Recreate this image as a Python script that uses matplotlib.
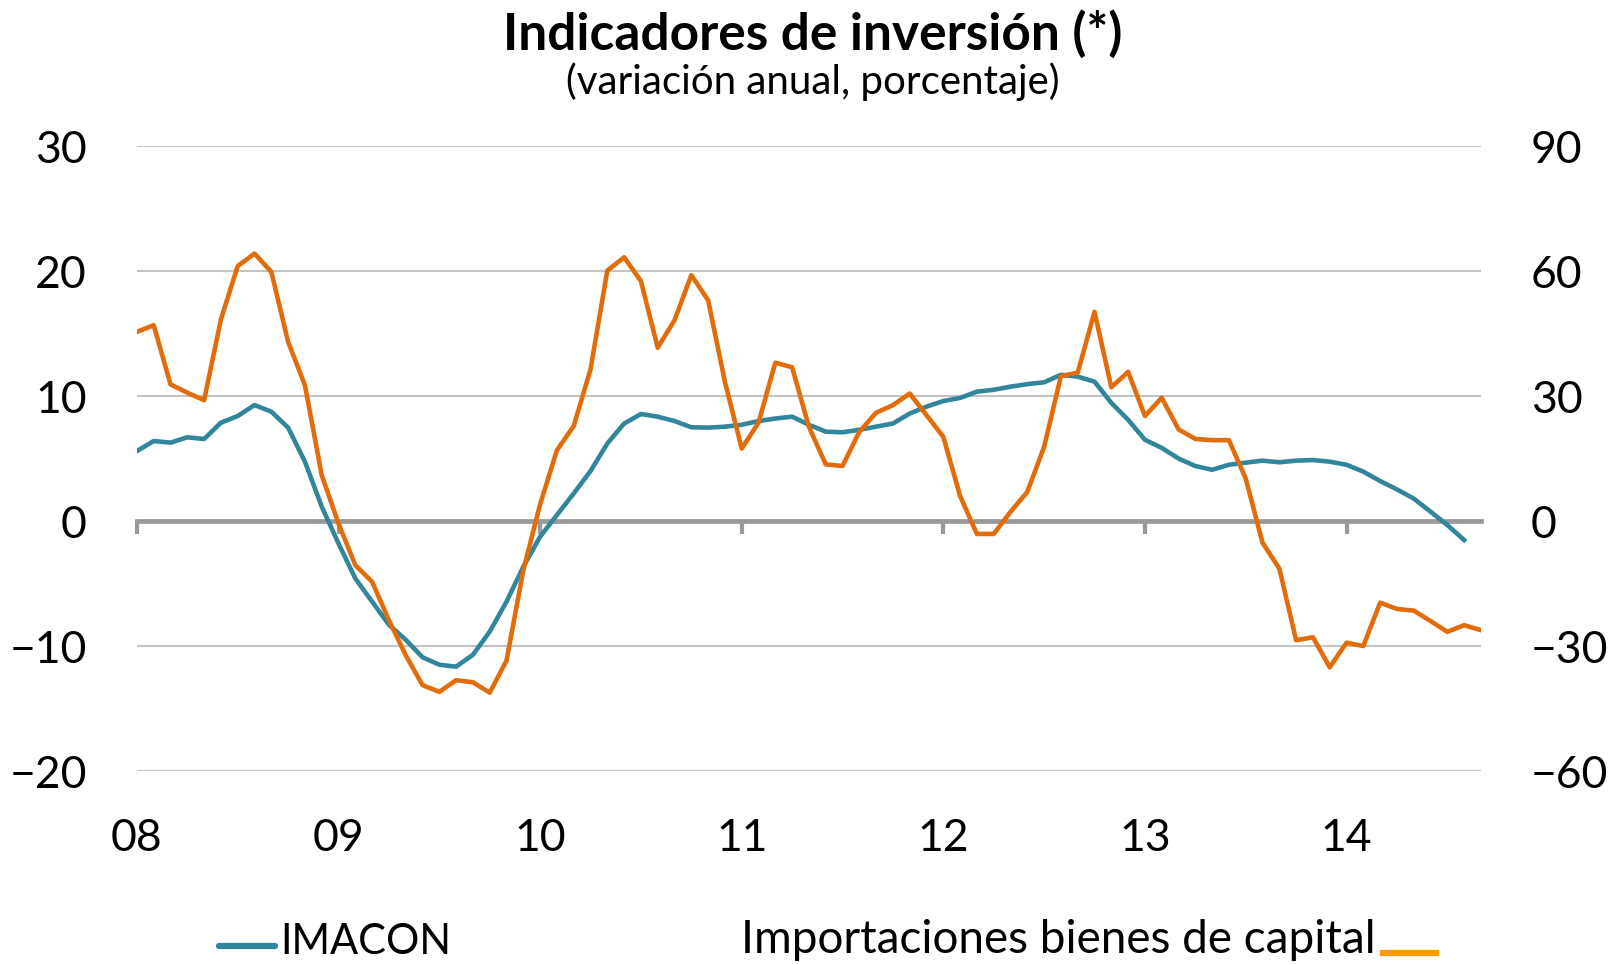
import matplotlib
matplotlib.use("Agg")
import matplotlib.pyplot as plt
from matplotlib.lines import Line2D
import numpy as np

plt.rcParams["font.family"] = ["Lato", "DejaVu Sans"]

# monthly series, Jan 2008 onwards
IMACON = [
    5.6, 6.4, 6.27, 6.7, 6.56, 7.87, 8.4, 9.28, 8.75, 7.47, 4.75, 1.15,
    -1.8, -4.6, -6.45, -8.3, -9.5, -10.9, -11.5, -11.65, -10.7, -8.85, -6.45, -3.65,
    -1.25, 0.48, 2.2, 4.0, 6.2, 7.8, 8.56, 8.35, 8.0, 7.5, 7.47, 7.55,
    7.7, 8.0, 8.2, 8.35, 7.7, 7.15, 7.1, 7.3, 7.55, 7.8, 8.6, 9.15,
    9.6, 9.85, 10.35, 10.5, 10.75, 10.95, 11.1, 11.7, 11.55, 11.15, 9.45, 8.1,
    6.5, 5.85, 5.0, 4.4, 4.1, 4.5, 4.67, 4.83, 4.7, 4.83, 4.88, 4.75,
    4.5, 3.95, 3.2, 2.53, 1.8, 0.75, -0.32, -1.52,
]
IMPORTACIONES = [
    45.4, 47.0, 32.8, 30.8, 29.0, 48.4, 61.2, 64.2, 59.8, 43.0, 32.6, 11.0,
    -0.6, -10.6, -14.6, -23.8, -32.2, -39.4, -41.0, -38.2, -38.7, -41.2, -33.5, -11.8,
    4.0, 17.0, 22.8, 36.4, 60.1, 63.3, 57.6, 41.6, 48.2, 59.0, 53.0, 33.4,
    17.4, 23.6, 38.0, 36.9, 22.6, 13.6, 13.2, 21.4, 26.0, 27.8, 30.6, 25.4,
    20.2, 6.0, -3.1, -3.1, 2.2, 7.0, 17.8, 34.8, 35.6, 50.2, 32.1, 35.8,
    25.2, 29.6, 22.0, 19.7, 19.4, 19.4, 10.2, -5.2, -11.4, -28.6, -27.9, -35.1,
    -29.2, -30.0, -19.6, -21.1, -21.5, -24.0, -26.6, -25.0, -26.2,
]
YEAR_LABELS = ["08", "09", "10", "11", "12", "13", "14"]
LEFT_TICKS = [-20, -10, 0, 10, 20, 30]
RIGHT_TICKS = [-60, -30, 0, 30, 60, 90]

TEAL = "#31869B"
ORANGE = "#E36C0A"
ORANGE_LEG = "#FF9900"
GRID = "#C3C3C3"
AXIS = "#999999"


def main() -> None:
    fig = plt.figure(figsize=(16.09, 9.64), dpi=100)
    ax = fig.add_axes([0.0851, 0.2002, 0.8353, 0.6483])
    ax2 = ax.twinx()

    x_imacon = np.arange(len(IMACON))
    x_imp = np.arange(len(IMPORTACIONES))
    year_pos = np.arange(len(YEAR_LABELS)) * 12

    ax.plot(x_imacon, IMACON, color=TEAL, lw=3.3, solid_joinstyle="round", zorder=3)
    ax2.plot(x_imp, IMPORTACIONES, color=ORANGE, lw=3.3, solid_joinstyle="round", zorder=3)

    ax.set_xlim(0, len(IMPORTACIONES) - 1)
    ax.set_ylim(-20, 30)
    ax2.set_ylim(-60, 90)
    ax.set_yticks(LEFT_TICKS)
    ax2.set_yticks(RIGHT_TICKS)
    ax.set_yticklabels([f"{v}".replace("-", "\u2212") for v in LEFT_TICKS])
    ax2.set_yticklabels([f"{v}".replace("-", "\u2212") for v in RIGHT_TICKS])

    for a in (ax, ax2):
        for s in ("top", "left", "right", "bottom"):
            a.spines[s].set_visible(False)
    ax.yaxis.grid(True, color=GRID, lw=1.5)
    ax.set_axisbelow(True)

    # zero line with year ticks
    ax.spines["bottom"].set_visible(True)
    ax.spines["bottom"].set_position(("data", 0))
    ax.spines["bottom"].set_color(AXIS)
    ax.spines["bottom"].set_linewidth(3.4)
    ax.spines["bottom"].set_zorder(2)
    ax.set_xticks(year_pos)
    ax.tick_params(axis="x", direction="out", length=9, width=3, color=AXIS,
                   labelbottom=False)

    sec = ax.secondary_xaxis("bottom")
    sec.set_xticks(year_pos, labels=YEAR_LABELS)
    sec.spines["bottom"].set_visible(False)
    sec.tick_params(length=0, pad=34, labelsize=32)

    ax.tick_params(axis="y", length=0, pad=36, labelsize=32)
    ax2.tick_params(axis="y", length=0, pad=36, labelsize=32)

    fig.text(0.505, 0.948, "Indicadores de inversión (*)", ha="center",
             va="baseline", fontsize=37, fontweight="bold")
    fig.text(0.505, 0.902, "(variación anual, porcentaje)", ha="center",
             va="baseline", fontsize=29)

    # legend drawn by hand, as in the original layout
    fig.add_artist(Line2D([0.1361, 0.1709], [0.019, 0.019], color=TEAL, lw=4.5,
                          solid_capstyle="round", transform=fig.transFigure))
    fig.text(0.174, 0.0104, "IMACON", ha="left", va="baseline", fontsize=30)
    fig.text(0.855, 0.0114, "Importaciones bienes de capital", ha="right",
             va="baseline", fontsize=33)
    fig.add_artist(Line2D([0.8595, 0.8925], [0.0114, 0.0114], color=ORANGE_LEG, lw=4.5,
                          transform=fig.transFigure))

    fig.savefig("out.png", dpi=100)
    plt.close(fig)


if __name__ == "__main__":
    main()
